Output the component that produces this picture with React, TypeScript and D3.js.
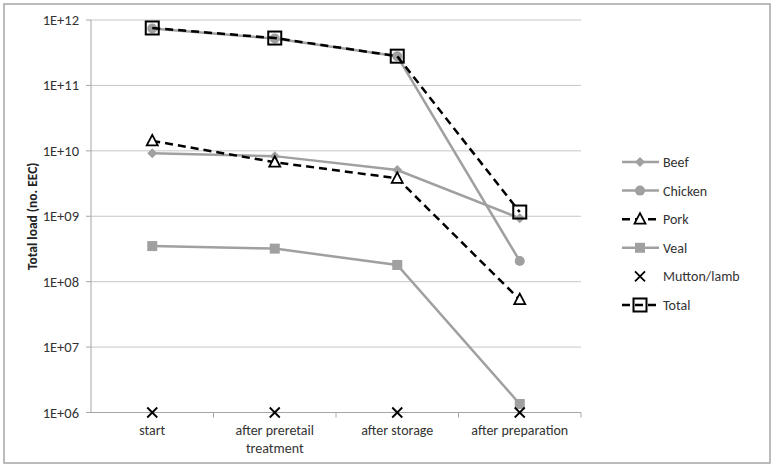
import React from "react";
import * as d3 from "d3";

const categories = ["start", "after preretail treatment", "after storage", "after preparation"];
const beef = [9.2e9, 8.3e9, 5.1e9, 9.3e8];
const chicken = [7.4e11, 5.2e11, 2.8e11, 2.07e8];
const pork = [1.42e10, 6.7e9, 3.8e9, 5.3e7];
const veal = [3.5e8, 3.2e8, 1.8e8, 1.35e6];
const mutton = [1e6, 1e6, 1e6, 1e6];
const total = [7.55e11, 5.3e11, 2.8e11, 1.16e9];
const yTicks = [1e6, 1e7, 1e8, 1e9, 1e10, 1e11, 1e12];
const yTickLabels = ["1E+06", "1E+07", "1E+08", "1E+09", "1E+10", "1E+11", "1E+12"];

type S = { name: string; values: number[]; color: string; dashed: boolean; line: boolean; marker: string };
const series: S[] = [
  { name: "Beef", values: beef, color: "#a0a0a0", dashed: false, line: true, marker: "diamond" },
  { name: "Chicken", values: chicken, color: "#a0a0a0", dashed: false, line: true, marker: "circle" },
  { name: "Pork", values: pork, color: "#000", dashed: true, line: true, marker: "triangle" },
  { name: "Veal", values: veal, color: "#a0a0a0", dashed: false, line: true, marker: "square" },
  { name: "Mutton/lamb", values: mutton, color: "#000", dashed: false, line: false, marker: "x" },
  { name: "Total", values: total, color: "#000", dashed: true, line: true, marker: "osquare" },
];

const FONT = "Carlito, 'Liberation Sans', Arial, sans-serif";

function Marker({ type, x, y }: { type: string; x: number; y: number }) {
  switch (type) {
    case "diamond":
      return <path d={`M${x},${y - 5}L${x + 5},${y}L${x},${y + 5}L${x - 5},${y}Z`} fill="#a0a0a0" />;
    case "circle":
      return <circle cx={x} cy={y} r={5} fill="#a0a0a0" />;
    case "triangle":
      return <path d={`M${x},${y - 6}L${x + 5.5},${y + 4.5}L${x - 5.5},${y + 4.5}Z`} fill="#fff" stroke="#000" strokeWidth={1.8} />;
    case "square":
      return <rect x={x - 5} y={y - 5} width={10} height={10} fill="#a0a0a0" />;
    case "x":
      return (
        <path d={`M${x - 5},${y - 5}L${x + 5},${y + 5}M${x + 5},${y - 5}L${x - 5},${y + 5}`} stroke="#000" strokeWidth={1.8} />
      );
    case "osquare":
      return <rect x={x - 6.5} y={y - 6.5} width={13} height={13} fill="none" stroke="#000" strokeWidth={2} />;
  }
  return null;
}

export default function App() {
  const W = 775, H = 468;
  const left = 91, right = 581, top = 20, bottom = 412.5;
  const x = d3.scaleBand<string>().domain(categories).range([left, right]);
  const y = d3.scaleLog().domain([1e6, 1e12]).range([bottom, top]);
  const cx = (c: string) => (x(c) as number) + x.bandwidth() / 2;
  const line = d3.line<number>().x((_, i) => cx(categories[i])).y((v) => y(v));

  const legendX = 622, legendY0 = 162, legendStep = 28.6;

  return (
    <svg width={W} height={H} style={{ position: "absolute", left: 0, top: 0 }} fontFamily={FONT}>
      <rect x={0} y={0} width={W} height={H} fill="#fff" />
      <rect x={4} y={4} width={766} height={459} fill="#fff" stroke="#a6a6a6" strokeWidth={1.5} />
      {yTicks.map((t, i) => (
        <g key={t}>
          {i > 0 && <line x1={left} x2={right} y1={y(t)} y2={y(t)} stroke="#c6c6c6" strokeWidth={1} />}
          <line x1={left - 5} x2={left} y1={y(t)} y2={y(t)} stroke="#a6a6a6" />
          <text x={left - 12} y={y(t)} dy="0.35em" textAnchor="end" fontSize={14.5} fill="#333">
            {yTickLabels[i]}
          </text>
        </g>
      ))}
      <line x1={left} x2={left} y1={top} y2={bottom} stroke="#a6a6a6" />
      <line x1={left} x2={right} y1={bottom} y2={bottom} stroke="#a6a6a6" />
      {categories.map((c, i) => (
        <line key={c} x1={left + (i + 1) * x.bandwidth()} x2={left + (i + 1) * x.bandwidth()} y1={bottom} y2={bottom + 5} stroke="#a6a6a6" />
      ))}
      {categories.map((c) => {
        const words = c === "after preretail treatment" ? ["after preretail", "treatment"] : [c];
        return (
          <text key={c} x={cx(c)} y={bottom + 22} textAnchor="middle" fontSize={14} fill="#333">
            {words.map((w, j) => (
              <tspan key={j} x={cx(c)} dy={j === 0 ? 0 : 18}>
                {w}
              </tspan>
            ))}
          </text>
        );
      })}
      <text transform={`translate(37,${(top + bottom) / 2}) rotate(-90)`} textAnchor="middle" fontSize={13.5} fontWeight="bold" fill="#222">
        Total load (no. EEC)
      </text>
      {series.map((s) => (
        <g key={s.name}>
          {s.line && (
            <path
              d={line(s.values) as string}
              fill="none"
              stroke={s.color}
              strokeWidth={2.5}
              strokeDasharray={s.dashed ? "8,5" : undefined}
            />
          )}
          {s.values.map((v, i) => (
            <Marker key={i} type={s.marker} x={cx(categories[i])} y={y(v)} />
          ))}
        </g>
      ))}
      {series.map((s, i) => {
        const ly = legendY0 + i * legendStep;
        return (
          <g key={s.name}>
            {s.line && (
              <line
                x1={legendX}
                x2={legendX + 37}
                y1={ly}
                y2={ly}
                stroke={s.color}
                strokeWidth={2.5}
                strokeDasharray={s.dashed ? "8,5" : undefined}
              />
            )}
            <Marker type={s.marker} x={legendX + 18} y={ly} />
            <text x={legendX + 41} y={ly} dy="0.35em" fontSize={14} fill="#333">
              {s.name}
            </text>
          </g>
        );
      })}
    </svg>
  );
}
